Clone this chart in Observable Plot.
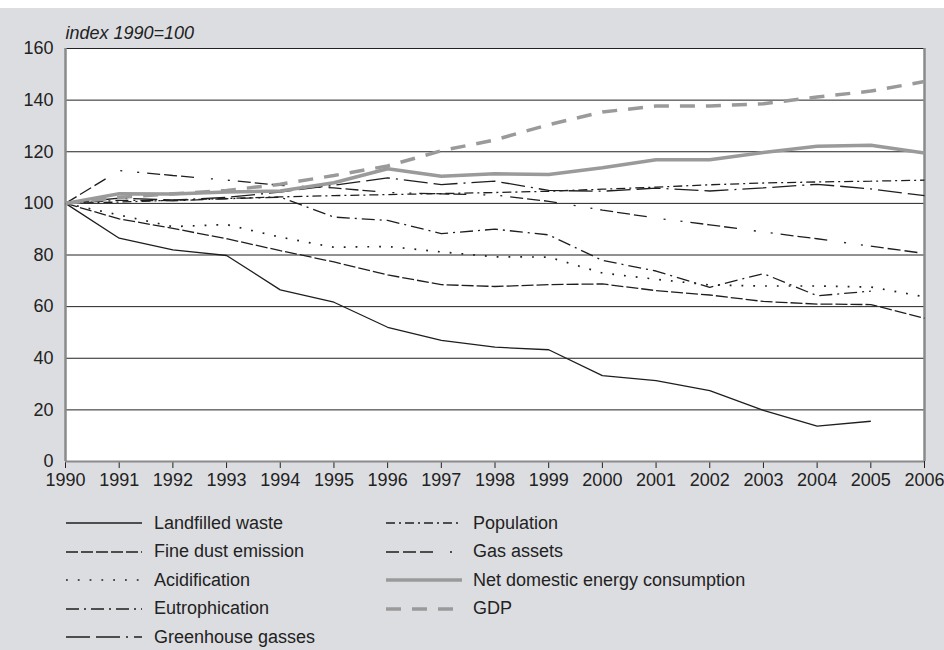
<!DOCTYPE html>
<html><head><meta charset="utf-8">
<script src="https://cdn.jsdelivr.net/npm/d3@7"></script>
<script src="https://cdn.jsdelivr.net/npm/@observablehq/plot@0.6"></script>
<style>
body{margin:0;background:#fff;font-family:"Liberation Sans",Arial,sans-serif;}
#wrap{position:absolute;left:0;top:8px;width:944px;height:642px;background:#dcdde0;overflow:hidden;}
#chart{position:absolute;left:0;top:0;}
.leg{position:absolute;height:24px;display:flex;align-items:center;font-size:18px;color:#222;white-space:nowrap;}
.leg svg{display:block;}
</style></head><body>
<div id="wrap"><div id="chart"></div><div id="legend"></div></div>
<script>
// ---- data ----
const years = [1990,1991,1992,1993,1994,1995,1996,1997,1998,1999,2000,2001,2002,2003,2004,2005,2006];
const landfilledWaste = [100,86.5,82,79.8,66.5,61.7,52,46.9,44.3,43.3,33.3,31.3,27.5,19.8,13.7,15.6,null];
const fineDustEmission = [100,94,90.3,86.3,81.7,77.3,72.3,68.5,67.8,68.5,68.8,66.2,64.5,62,61,60.8,55.5];
const acidification = [100,95.5,91,91.8,86.9,83,83.3,81.2,79.3,79.2,73,70.6,68.4,68,68,67.6,63.8];
const eutrophication = [100,101.2,101,101.8,102.4,94.7,93.4,88.3,90,87.8,77.9,73.8,67.5,72.8,64.2,66,null];
const greenhouseGasses = [100,102,101.3,102.3,104.4,107,109.9,107.3,108.6,105,104.7,105.9,104.8,106,107.4,105.6,103];
const population = [100,100.5,101.2,101.9,102.5,103,103.4,103.8,104.2,104.7,105.5,106.3,107.2,107.9,108.3,108.6,109];
const gasAssets = [100,112.7,110.8,109,107,106,104.2,103.7,103.2,100.8,97.4,94.3,91.7,88.9,86.3,83.4,80.6];
const energyConsumption = [100,103.7,103.6,104.4,104.8,108,113.4,110.5,111.5,111.2,113.8,116.9,116.9,119.7,122.1,122.5,119.5];
const gdp = [100,102.3,103.7,105,107.4,110.8,114.5,120.4,124.6,130.5,135.4,137.7,137.7,138.6,141.2,143.5,147.2];
const yTicks = [0,20,40,60,80,100,120,140,160];
const seriesNames = ["Landfilled waste","Fine dust emission","Acidification","Eutrophication","Greenhouse gasses","Population","Gas assets","Net domestic energy consumption","GDP"];
const seriesValues = [landfilledWaste,fineDustEmission,acidification,eutrophication,greenhouseGasses,population,gasAssets,energyConsumption,gdp];

// ---- styles ----
const black = "#1e1e1e", gray = "#9a9a9a";
const styles = [
  {stroke: black, width: 1.3, dash: null},
  {stroke: black, width: 1.3, dash: "12,3"},
  {stroke: black, width: 1.7, dash: "1.8,10"},
  {stroke: black, width: 1.3, dash: "13,5,2,5"},
  {stroke: black, width: 1.3, dash: "24,6,24,6,2,6"},
  {stroke: black, width: 1.3, dash: "9,4,2,4"},
  {stroke: black, width: 1.3, dash: "13,4,13,4,13,17,2,15,2,8"},
  {stroke: gray, width: 3.5, dash: null},
  {stroke: gray, width: 3.5, dash: "15,11"}
];

const table = seriesNames.map((name, i) =>
  years.map((y, j) => ({year: y, value: seriesValues[i][j], series: name})).filter(d => d.value != null));

const lineMarks = seriesNames.map((name, i) =>
  Plot.line(table[i], {x: "year", y: "value", stroke: styles[i].stroke, strokeWidth: styles[i].width,
    strokeDasharray: styles[i].dash || undefined, strokeLinejoin: "miter", strokeLinecap: "butt"}));

const chart = Plot.plot({
  width: 944, height: 490,
  marginLeft: 65, marginRight: 20, marginTop: 40, marginBottom: 37,
  style: {background: "transparent", fontFamily: "'Liberation Sans', Arial, sans-serif", fontSize: "18px", color: "#222", overflow: "visible"},
  x: {domain: [1990, 2006], ticks: years, tickFormat: d => String(d), tickSize: 7, tickPadding: 5, label: null},
  y: {domain: [0, 160], ticks: yTicks, tickSize: 0, tickPadding: 12, label: null},
  marks: [
    Plot.rect([0], {x1: () => 1990, x2: () => 2006, y1: () => 0, y2: () => 160, fill: "white"}),
    Plot.ruleY(yTicks, {stroke: "#222", strokeWidth: 1}),
    Plot.ruleX([1990, 2006], {stroke: "#8a8a8a", strokeWidth: 2.5}),
    Plot.ruleY([0], {stroke: "#8a8a8a", strokeWidth: 2}),
    ...lineMarks.slice(0, 7),
    ...lineMarks.slice(7),
    Plot.text(["index 1990=100"], {frameAnchor: "top-left", textAnchor: "start", lineAnchor: "bottom", dy: -10, fontStyle: "italic", fontSize: 18, fill: "#222"})
  ]
});
document.getElementById("chart").appendChild(chart);

// ---- legend ----
const legend = document.getElementById("legend");
const rowY = [515, 543.5, 572, 600.5, 629];
seriesNames.forEach((name, i) => {
  const col = i < 5 ? 0 : 1;
  const row = i < 5 ? i : i - 5;
  const left = col === 0 ? 66 : 386;
  const gap = col === 0 ? 12 : 11;
  const s = styles[i];
  const div = document.createElement("div");
  div.className = "leg";
  div.style.left = left + "px";
  div.style.top = (rowY[row] - 12) + "px";
  div.innerHTML = `<svg width="76" height="24"><line x1="0" x2="76" y1="12" y2="12" stroke="${s.stroke}" stroke-width="${s.width}" ${s.dash ? `stroke-dasharray="${s.dash}"` : ""}/></svg><span style="margin-left:${gap}px">${name}</span>`;
  legend.appendChild(div);
});
</script>
</body></html>
